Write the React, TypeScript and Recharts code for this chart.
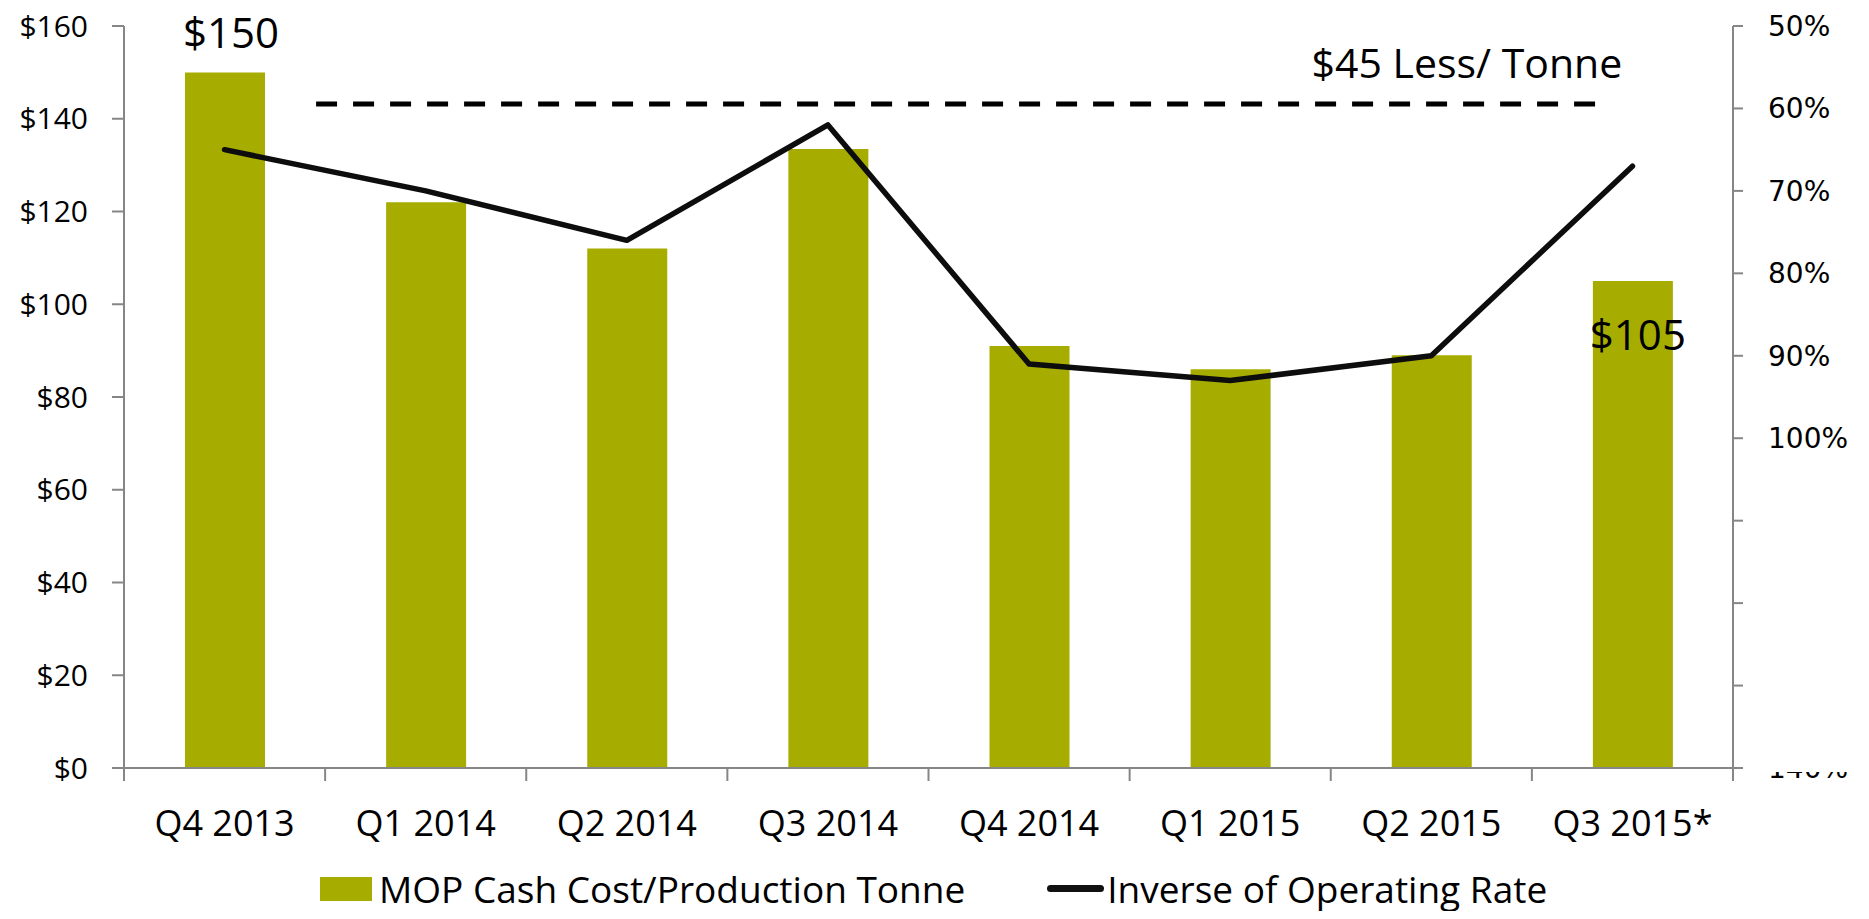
import React from 'react';
import {
  ComposedChart,
  Bar,
  Line,
  XAxis,
  YAxis,
  ReferenceLine,
  LabelList,
  Legend,
} from 'recharts';

const quarters = ['Q4 2013', 'Q1 2014', 'Q2 2014', 'Q3 2014', 'Q4 2014', 'Q1 2015', 'Q2 2015', 'Q3 2015*'];
const cashCost = [150, 122, 112, 133.5, 91, 86, 89, 105];
const inverseRate = [65, 70, 76, 62, 91, 93, 90, 67];

const costTicks = [0, 20, 40, 60, 80, 100, 120, 140, 160];
const rateTicks = [50, 60, 70, 80, 90, 100, 110, 120, 130, 140];
const hiddenRateLabels = [110, 120, 130];
const labelledBars = [0, 7];

const costName = 'MOP Cash Cost/Production Tonne';
const rateName = 'Inverse of Operating Rate';

// dashed "$45 less" marker: start/end given in category slots (0..8 across the plot)
const savingsLine = { fromSlot: 0.955, toSlot: 7.375, cost: 143.2, text: '$45 Less/ Tonne' };

const data = quarters.map((q, i) => ({ quarter: q, cost: cashCost[i], rate: inverseRate[i] }));

const W = 1869;
const H = 919;
const LEFT_W = 124;
const RIGHT_W = 136;
const LEGEND_H = 53;
const BAND = (W - LEFT_W - RIGHT_W) / quarters.length;

const OLIVE = '#A6AD00';
const GREY = '#868686';
const FONT = '"Open Sans", sans-serif';

const XTick = (props: any) => {
  const { x, y, payload, index } = props;
  const half = BAND / 2;
  return (
    <g>
      <line x1={x - half} y1={y} x2={x - half} y2={y + 13} stroke={GREY} strokeWidth={2} />
      {index === quarters.length - 1 && (
        <line x1={x + half} y1={y} x2={x + half} y2={y + 13} stroke={GREY} strokeWidth={2} />
      )}
      <text x={x} y={y + 68} textAnchor="middle" fill="#000" fontSize={36} fontFamily={FONT}>
        {payload.value}
      </text>
    </g>
  );
};

const RateTick = (props: any) => {
  const { x, y, payload } = props;
  if (hiddenRateLabels.includes(payload.value)) return null;
  const last = payload.value === rateTicks[rateTicks.length - 1];
  const id = `clip-rate-${payload.value}`;
  return (
    <g>
      {last && (
        <defs>
          <clipPath id={id}>
            <rect x={x - 5} y={y + 4} width={110} height={30} />
          </clipPath>
        </defs>
      )}
      <text
        x={x}
        y={y}
        dy="0.355em"
        textAnchor="start"
        fill="#000"
        fontSize={28}
        fontFamily='"DejaVu Sans", sans-serif'
        clipPath={last ? `url(#${id})` : undefined}
      >
        {payload.value}%
      </text>
    </g>
  );
};

const BarLabel = (props: any) => {
  const { x, y, width, value, index } = props;
  if (!labelledBars.includes(index)) return null;
  const top = index === 0;
  return (
    <text
      x={x + width / 2 + (top ? 6 : 5)}
      y={top ? y - 24 : y + 69}
      textAnchor="middle"
      fill="#000"
      fontSize={42}
      fontFamily={FONT}
    >
      ${value}
    </text>
  );
};

// full-width reference line trimmed to the slot range
const SavingsShape = (props: any) => {
  const { x1, x2, y1 } = props;
  if (x1 == null || x2 == null || y1 == null) return null;
  const slot = (x2 - x1) / quarters.length;
  const xa = x1 + savingsLine.fromSlot * slot;
  const xb = x1 + savingsLine.toSlot * slot;
  return (
    <g>
      <line x1={xa} y1={y1} x2={xb} y2={y1} stroke="#000" strokeWidth={5} strokeDasharray="21 16" />
      <text x={xb + 15} y={y1 - 26} textAnchor="end" fill="#000" fontSize={41} fontFamily={FONT}>
        {savingsLine.text}
      </text>
    </g>
  );
};

const LegendContent = () => (
  <div
    style={{
      height: LEGEND_H,
      boxSizing: 'border-box',
      paddingBottom: 8,
      display: 'flex',
      alignItems: 'center',
      paddingLeft: 320,
      fontFamily: FONT,
      fontSize: 37,
      color: '#000',
    }}
  >
    <div style={{ display: 'flex', alignItems: 'center' }}>
      <span style={{ display: 'inline-block', width: 52, height: 24, background: OLIVE, marginRight: 7 }} />
      <span style={{ lineHeight: '45px', whiteSpace: 'nowrap' }}>{costName}</span>
    </div>
    <div style={{ display: 'flex', alignItems: 'center', marginLeft: 82 }}>
      <span style={{ display: 'inline-block', width: 57, height: 7, borderRadius: 4, background: '#111', marginRight: 3 }} />
      <span style={{ lineHeight: '45px', whiteSpace: 'nowrap' }}>{rateName}</span>
    </div>
  </div>
);

export default function App() {
  return (
    <div style={{ margin: -8, width: W, height: H }}>
      <ComposedChart width={W} height={H} data={data} margin={{ top: 26, right: 0, bottom: 0, left: 0 }}>
        <XAxis
          xAxisId="cat"
          dataKey="quarter"
          height={H - 26 - 742 - LEGEND_H}
          axisLine={{ stroke: GREY, strokeWidth: 2 }}
          tickLine={false}
          tickSize={0}
          tickMargin={0}
          interval={0}
          tick={<XTick />}
        />
        <YAxis
          yAxisId="left"
          width={LEFT_W}
          domain={[0, 160]}
          ticks={costTicks}
          tickFormatter={(v: number) => `$${v}`}
          axisLine={{ stroke: GREY, strokeWidth: 2 }}
          tickLine={{ stroke: GREY, strokeWidth: 2 }}
          tickSize={12}
          tickMargin={24}
          tick={{ fill: '#000', fontSize: 30, fontFamily: FONT }}
        />
        <YAxis
          yAxisId="right"
          orientation="right"
          width={RIGHT_W}
          reversed
          domain={[50, 140]}
          ticks={rateTicks}
          axisLine={{ stroke: GREY, strokeWidth: 2 }}
          tickLine={{ stroke: GREY, strokeWidth: 2 }}
          tickSize={10}
          tickMargin={25}
          tick={<RateTick />}
        />
        <Bar
          xAxisId="cat"
          yAxisId="left"
          dataKey="cost"
          name={costName}
          fill={OLIVE}
          barSize={80}
          isAnimationActive={false}
        >
          <LabelList dataKey="cost" content={<BarLabel />} />
        </Bar>
        <ReferenceLine
          xAxisId="cat"
          yAxisId="left"
          y={savingsLine.cost}
          shape={(p: any) => <SavingsShape {...p} />}
        />
        <Line
          xAxisId="cat"
          yAxisId="right"
          dataKey="rate"
          name={rateName}
          stroke="#0d0d0d"
          strokeWidth={5.5}
          strokeLinejoin="round"
          strokeLinecap="round"
          dot={false}
          activeDot={false}
          isAnimationActive={false}
        />
        <Legend verticalAlign="bottom" content={<LegendContent />} />
      </ComposedChart>
    </div>
  );
}
